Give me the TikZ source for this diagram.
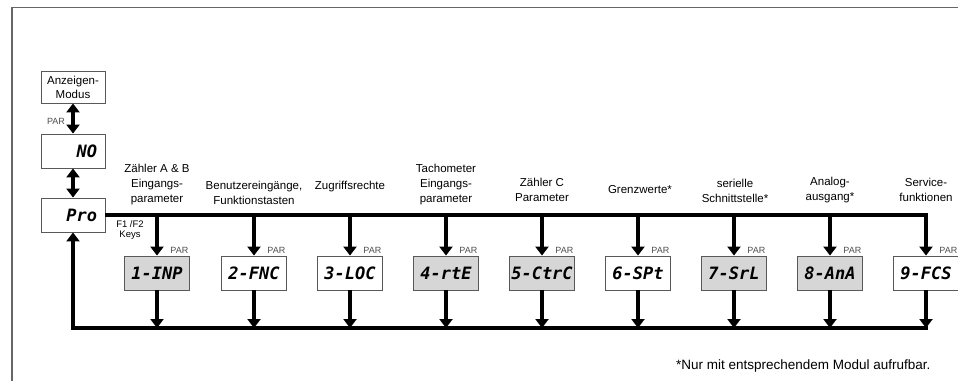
\documentclass[tikz,border=0pt]{standalone}
\usepackage{fontspec}
\setmainfont{Liberation Sans}
\newfontfamily\segfont{DejaVu Sans Mono}
\usetikzlibrary{arrows.meta}
\tikzset{
	disp/.style={draw=black!65, line width=0.9pt, fill=white, minimum width=65pt, minimum height=34pt, inner sep=0pt, font=\segfont\bfseries\itshape\fontsize{17}{17}\selectfont},
	dispg/.style={disp, fill=black!16},
	lbl/.style={align=center, anchor=north, inner sep=0pt, font=\fontsize{11.5}{15}\selectfont},
	par/.style={anchor=south east, inner sep=1.5pt, text=black!70, font=\fontsize{9}{9}\selectfont},
	bar/.style={line width=4.5pt, -{Triangle[width=13pt,length=9pt]}},
	barboth/.style={line width=4.5pt, {Triangle[width=13pt,length=9pt]}-{Triangle[width=13pt,length=9pt]}}
}

\begin{document}
\begin{tikzpicture}[x=1pt,y=-1pt]
			%%%%% START %%%%%
			\useasboundingbox (0,0) rectangle (958,381);
			\draw[black!60, line width=1.5pt] (12,381) -- (12,7.5) -- (958,7.5);
			
			% left column
			\node[draw=black!65, line width=0.9pt, minimum width=64pt, minimum height=32pt, inner sep=0pt, align=center, font=\fontsize{11.5}{14}\selectfont] (anz) at (73,87) {Anzeigen-\\Modus};
			\node[disp, minimum width=64pt, text width=48pt, align=right] (no) at (73,151) {NO};
			\node[disp, minimum width=64pt, text width=48pt, align=right] (pro) at (73,215) {Pro};
			\node[par, anchor=center] (parl) at (56,121) {PAR};
			
			\draw[barboth] (anz.south) -- (no.north);
			\draw[barboth] (no.south) -- (pro.north);
			
			% menu modules
			\node[dispg] (m1) at (157,273) {1-INP};
			\node[disp] (m2) at (254,273) {2-FNC};
			\node[disp] (m3) at (350,273) {3-LOC};
			\node[dispg] (m4) at (446,273) {4-rtE};
			\node[dispg] (m5) at (542,273) {5-CtrC};
			\node[disp] (m6) at (638,273) {6-SPt};
			\node[dispg] (m7) at (734,273) {7-SrL};
			\node[dispg] (m8) at (830,273) {8-AnA};
			\node[disp] (m9) at (926,273) {9-FCS};
			
			\node[par] (p1) at (m1.north east) {PAR};
			\node[par] (p2) at (m2.north east) {PAR};
			\node[par] (p3) at (m3.north east) {PAR};
			\node[par] (p4) at (m4.north east) {PAR};
			\node[par] (p5) at (m5.north east) {PAR};
			\node[par] (p6) at (m6.north east) {PAR};
			\node[par] (p7) at (m7.north east) {PAR};
			\node[par] (p8) at (m8.north east) {PAR};
			\node[par] (p9) at (m9.north east) {PAR};
			
			\node[lbl] (t1) at (157,164) {Zähler A \& B\\Eingangs-\\parameter};
			\node[lbl] (t2) at (254,181) {Benutzereingänge,\\Funktionstasten};
			\node[lbl] (t3) at (350,181) {Zugriffsrechte};
			\node[lbl] (t4) at (446,164) {Tachometer\\Eingangs-\\parameter};
			\node[lbl] (t5) at (542,178) {Zähler C\\Parameter};
			\node[lbl] (t6) at (640,185) {Grenzwerte*};
			\node[lbl] (t7) at (735,179) {serielle\\Schnittstelle*};
			\node[lbl] (t8) at (830,177) {Analog-\\ausgang*};
			\node[lbl] (t9) at (926,178) {Service-\\funktionen};
			
			\node[align=center, font=\fontsize{9.5}{10}\selectfont] (keys) at (130,230) {F1 /F2\\Keys};
			
			% top bus
			\draw[bar] (pro.east) -| (m9.north);
			\draw[bar] (m1.north |- pro.east) -- (m1.north);
			\draw[bar] (m2.north |- pro.east) -- (m2.north);
			\draw[bar] (m3.north |- pro.east) -- (m3.north);
			\draw[bar] (m4.north |- pro.east) -- (m4.north);
			\draw[bar] (m5.north |- pro.east) -- (m5.north);
			\draw[bar] (m6.north |- pro.east) -- (m6.north);
			\draw[bar] (m7.north |- pro.east) -- (m7.north);
			\draw[bar] (m8.north |- pro.east) -- (m8.north);
			
			% bottom bus and return
			\coordinate (ret) at (73,328);
			\draw[bar] (m1.south) -- (m1.south |- ret);
			\draw[bar] (m2.south) -- (m2.south |- ret);
			\draw[bar] (m3.south) -- (m3.south |- ret);
			\draw[bar] (m4.south) -- (m4.south |- ret);
			\draw[bar] (m5.south) -- (m5.south |- ret);
			\draw[bar] (m6.south) -- (m6.south |- ret);
			\draw[bar] (m7.south) -- (m7.south |- ret);
			\draw[bar] (m8.south) -- (m8.south |- ret);
			\draw[bar] (m9.south) -- (m9.south |- ret);
			\draw[bar, line cap=rect] (m9.south |- ret) -- (ret) -- (pro.south);
			
			\node[anchor=east, font=\fontsize{13.5}{16}\selectfont] (fn) at (934,366) {*Nur mit entsprechendem Modul aufrufbar.};
			%%%%% END %%%%%
\end{tikzpicture}
\end{document}
